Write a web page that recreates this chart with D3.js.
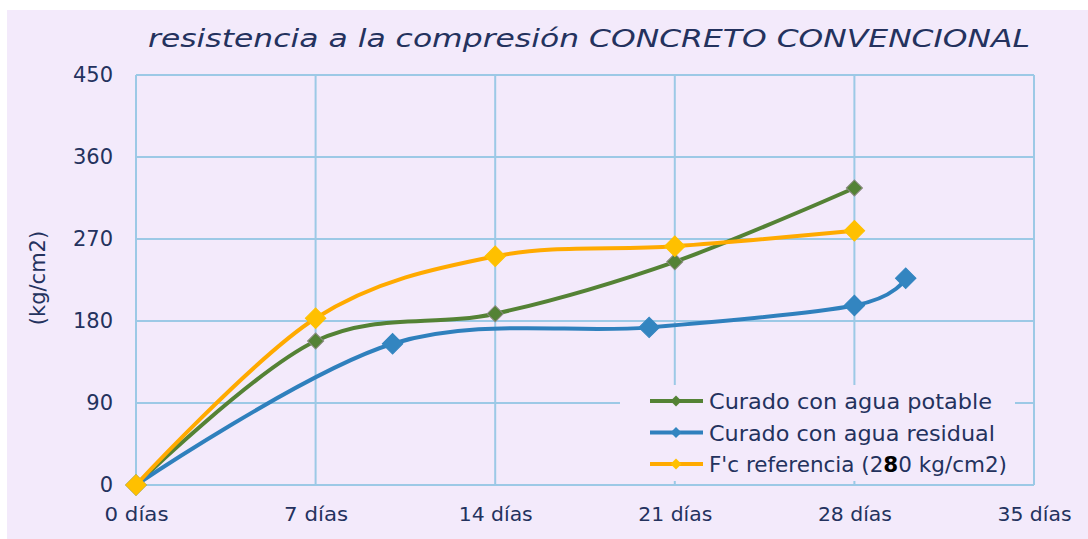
<!DOCTYPE html>
<html>
<head>
<meta charset="utf-8">
<script src="https://cdn.jsdelivr.net/npm/d3@7"></script>
<style>
body{margin:0;background:#fff;}
svg text{font-family:"Century Gothic","DejaVu Sans",sans-serif;fill:#24325e;}
</style>
</head>
<body>
<svg id="chart"></svg>
<script>
// data
var xTicks = [0,7,14,21,28,35]
var yTicks = [0,90,180,270,360,450]
var potableDays = [0,7,14,21,28]
var potableVals = [0,158,188,245,326]
var residualDays = [0,10,20,28,30]
var residualVals = [0,155,173,197,227]
var refDays = [0,7,14,21,28]
var refVals = [0,183,251,262,279]
var seriesNames = ["Curado con agua potable","Curado con agua residual","F'c referencia (280 kg/cm2)"]

var screen = {width:1088,height:539}
var margins = {left:136,right:54,top:75,bottom:54}
var graph = {
    width:screen.width-margins.left-margins.right,
    height:screen.height-margins.top-margins.bottom
}

var svg = d3.select("#chart")
    .attr("width",screen.width)
    .attr("height",screen.height)

svg.append("rect")
    .attr("x",7).attr("y",10)
    .attr("width",screen.width-7).attr("height",screen.height-10)
    .attr("fill","#f3eafb")

var xScale = d3.scaleLinear().domain([0,35]).range([0,graph.width])
var yScale = d3.scaleLinear().domain([0,450]).range([graph.height,0])

var target = svg.append("g")
    .attr("transform","translate("+margins.left+","+margins.top+")")

// grid lines
target.append("g")
    .selectAll("line")
    .data(yTicks)
    .enter()
    .append("line")
    .attr("x1",0).attr("x2",graph.width)
    .attr("y1",function(d){return yScale(d)})
    .attr("y2",function(d){return yScale(d)})
    .attr("stroke","#9cc9e6").attr("stroke-width",2)
target.append("g")
    .selectAll("line")
    .data(xTicks)
    .enter()
    .append("line")
    .attr("y1",0).attr("y2",graph.height)
    .attr("x1",function(d){return xScale(d)})
    .attr("x2",function(d){return xScale(d)})
    .attr("stroke","#9cc9e6").attr("stroke-width",2)

// axes (labels only)
var yAxis = d3.axisLeft(yScale).tickValues(yTicks).tickSize(0).tickPadding(23)
var xAxis = d3.axisBottom(xScale).tickValues(xTicks).tickSize(0).tickPadding(22)
    .tickFormat(function(d){return d+" días"})
var ya = target.append("g").call(yAxis)
var xa = target.append("g").attr("transform","translate(0,"+graph.height+")").call(xAxis)
ya.select(".domain").remove()
xa.select(".domain").remove()
ya.selectAll("text").attr("font-size",21).attr("fill","#24325e").attr("font-family",null)
xa.selectAll("text").attr("font-size",20).attr("fill","#24325e").attr("font-family",null)
    .attr("textLength",function(d){return d<10?64:74})
    .attr("lengthAdjust","spacingAndGlyphs")

// legend background hides the grid
target.append("rect")
    .attr("x",620-margins.left).attr("y",385-margins.top)
    .attr("width",395).attr("height",96)
    .attr("fill","#f3eafb")

var series = [
    {days:potableDays,vals:potableVals,line:"#548235",fill:"#548235",edge:"#8a8a80",size:130,len:283},
    {days:residualDays,vals:residualVals,line:"#2f80bd",fill:"#3385c0",edge:"#3385c0",size:210,len:286},
    {days:refDays,vals:refVals,line:"#ffaa00",fill:"#ffc000",edge:"#ffc000",size:210,len:298}
]

var line = d3.line()
    .x(function(p){return xScale(p[0])})
    .y(function(p){return yScale(p[1])})
    .curve(d3.curveCardinal.tension(0))

series.forEach(function(s)
{
    var pts = s.days.map(function(d,i){return [d,s.vals[i]]})
    target.append("path")
        .datum(pts)
        .attr("d",line)
        .attr("fill","none")
        .attr("stroke",s.line)
        .attr("stroke-width",4)
    target.selectAll(null)
        .data(pts)
        .enter()
        .append("path")
        .attr("d",d3.symbol(d3.symbolSquare,s.size))
        .attr("transform",function(p){return "translate("+xScale(p[0])+","+yScale(p[1])+") rotate(45)"})
        .attr("fill",s.fill)
        .attr("stroke",s.edge)
        .attr("stroke-width",1)
})

// legend
var legend = svg.append("g").attr("transform","translate(650,401)")
var entries = legend.selectAll("g")
    .data(series)
    .enter()
    .append("g")
    .attr("transform",function(s,i){return "translate(0,"+(i*31.5)+")"})
entries.append("line")
    .attr("x1",0).attr("x2",53).attr("y1",0).attr("y2",0)
    .attr("stroke",function(s){return s.line})
    .attr("stroke-width",4)
entries.append("path")
    .attr("d",d3.symbol(d3.symbolSquare,60))
    .attr("transform","translate(26,0) rotate(45)")
    .attr("fill",function(s){return s.fill})
entries.append("text")
    .attr("x",59).attr("y",8)
    .attr("font-size",21)
    .attr("textLength",function(s){return s.len})
    .attr("lengthAdjust","spacingAndGlyphs")
    .each(function(s,i)
    {
        var t = d3.select(this)
        if(i==2)
        {
            t.append("tspan").text("F'c referencia (2")
            t.append("tspan").text("8").attr("fill","#000").attr("font-weight","bold")
            t.append("tspan").text("0 kg/cm2)")
        }
        else
        {
            t.text(seriesNames[i])
        }
    })

// title and axis label
svg.append("text")
    .attr("x",148).attr("y",47)
    .attr("font-size",25)
    .attr("font-style","italic")
    .attr("textLength",882)
    .attr("lengthAdjust","spacingAndGlyphs")
    .attr("fill","#1e2a55")
    .text("resistencia a la compresión CONCRETO CONVENCIONAL")

svg.append("g")
    .attr("transform","translate(45,"+278+")")
    .append("text")
    .attr("transform","rotate(270)")
    .attr("text-anchor","middle")
    .attr("font-size",21)
    .text("(kg/cm2)")
</script>
</body>
</html>
